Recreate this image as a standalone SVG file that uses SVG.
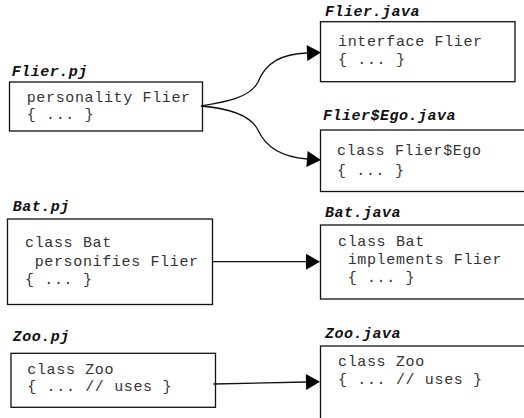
<svg xmlns="http://www.w3.org/2000/svg" width="524" height="418" viewBox="0 0 524 418">
  <defs>
    <style>
      .box { fill: #fff; stroke: #111; stroke-width: 1.3; }
      .code { font-family: "Liberation Mono", "Courier New", monospace; font-size: 15px; letter-spacing: 0.65px; fill: #333; white-space: pre; }
      .file { font-family: "Liberation Mono", "Courier New", monospace; font-size: 15px; letter-spacing: 0.5px; font-weight: bold; font-style: italic; fill: #111; }
      .link { fill: none; stroke: #111; stroke-width: 1.3; }
    </style>
    <marker id="arrow" markerUnits="userSpaceOnUse" markerWidth="14" markerHeight="16" refX="0" refY="8" orient="auto" overflow="visible">
      <path d="M0,0 L14,8 L0,16 Z" fill="#000"/>
    </marker>
  </defs>

  <rect width="524" height="418" fill="#fff"/>

  <!-- personality source -->
  <g id="flier-pj">
    <text class="file" x="11.7" y="76">Flier.pj</text>
    <rect class="box" x="9.5" y="82" width="193" height="49"/>
    <text class="code" x="26.7" y="102">personality Flier</text>
    <text class="code" x="26.7" y="119">{ ... }</text>
  </g>

  <!-- generated interface -->
  <g id="flier-java">
    <text class="file" x="325" y="16">Flier.java</text>
    <rect class="box" x="320.5" y="21.7" width="194.5" height="60"/>
    <text class="code" x="338" y="46">interface Flier</text>
    <text class="code" x="338" y="64">{ ... }</text>
  </g>

  <!-- generated ego class -->
  <g id="flier-ego-java">
    <text class="file" x="323" y="120">Flier$Ego.java</text>
    <rect class="box" x="320.5" y="130" width="215" height="61.5"/>
    <text class="code" x="337" y="155">class Flier$Ego</text>
    <text class="code" x="337" y="175">{ ... }</text>
  </g>

  <!-- Bat source -->
  <g id="bat-pj">
    <text class="file" x="12.7" y="210.7">Bat.pj</text>
    <rect class="box" x="7.5" y="219" width="205" height="85.5"/>
    <text class="code" x="25" y="247.3">class Bat</text>
    <text class="code" x="25" y="265.7"> personifies Flier</text>
    <text class="code" x="25" y="284">{ ... }</text>
  </g>

  <!-- Bat output -->
  <g id="bat-java">
    <text class="file" x="325" y="217">Bat.java</text>
    <rect class="box" x="320.5" y="225" width="215" height="74"/>
    <text class="code" x="338" y="245.7">class Bat</text>
    <text class="code" x="338" y="264"> implements Flier</text>
    <text class="code" x="338" y="282.3"> { ... }</text>
  </g>

  <!-- Zoo source -->
  <g id="zoo-pj">
    <text class="file" x="12.7" y="340.7">Zoo.pj</text>
    <rect class="box" x="11" y="353.3" width="204.5" height="54"/>
    <text class="code" x="27.3" y="374">class Zoo</text>
    <text class="code" x="27.3" y="391">{ ... // uses }</text>
  </g>

  <!-- Zoo output -->
  <g id="zoo-java">
    <text class="file" x="325" y="338.3">Zoo.java</text>
    <rect class="box" x="320.5" y="346" width="215" height="90"/>
    <text class="code" x="338" y="365.7">class Zoo</text>
    <text class="code" x="338" y="384">{ ... // uses }</text>
  </g>

  <!-- translation connectors -->
  <g id="connectors">
    <path class="link" d="M201,106 C225,102 250,98 258,82 C266,62 282,54 307,53" marker-end="url(#arrow)"/>
    <path class="link" d="M201,106 C225,108 250,114 258,130 C266,148 282,157 307,159" marker-end="url(#arrow)"/>
    <path class="link" d="M212,261.7 L306,261.7" marker-end="url(#arrow)"/>
    <path class="link" d="M213.5,384 L306,382" marker-end="url(#arrow)"/>
  </g>
</svg>
